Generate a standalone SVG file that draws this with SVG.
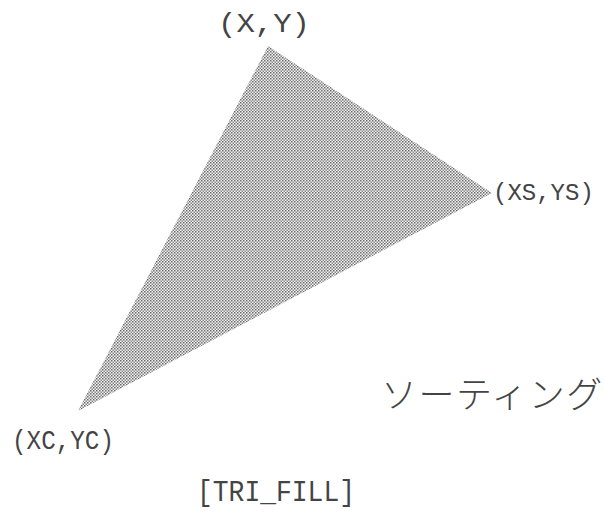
<svg xmlns="http://www.w3.org/2000/svg" width="604" height="514" viewBox="0 0 604 514">
<style>
.lbl{font-family:"Liberation Mono","DejaVu Sans Mono",monospace;font-size:27px;fill:#444;}
.jp{font-family:"Noto Sans CJK JP","Noto Sans",sans-serif;font-size:36px;fill:#444;font-weight:300;letter-spacing:1.5px;}
</style>
<defs>
<pattern id="dots" width="3" height="3" patternUnits="userSpaceOnUse">
<rect width="3" height="3" fill="#f2f2f2"/>
<rect x="0" y="0" width="1.5" height="1.5" fill="#6a6a6a"/>
<rect x="1.5" y="1.5" width="1.5" height="1.5" fill="#8a8a8a"/>
</pattern>
</defs>
<rect width="604" height="514" fill="#ffffff"/>
<g id="triangle">
<polygon points="268,46 492,193 78,411" fill="url(#dots)"/>
</g>
<g id="label-xy"><text class="lbl" x="218" y="32" textLength="92" lengthAdjust="spacingAndGlyphs">(X,Y)</text></g>
<g id="label-xsys"><text class="lbl" x="493" y="200" style="font-size:24px">(XS,YS)</text></g>
<g id="label-xcyc"><text class="lbl" x="12" y="449" textLength="102" lengthAdjust="spacingAndGlyphs">(XC,YC)</text></g>
<g id="label-trifill"><text class="lbl" x="197" y="501" style="font-size:29px" textLength="158" lengthAdjust="spacingAndGlyphs">[TRI_FILL]</text></g>
<g id="label-sorting"><text class="jp" x="381" y="408">ソーティング</text></g>
</svg>
